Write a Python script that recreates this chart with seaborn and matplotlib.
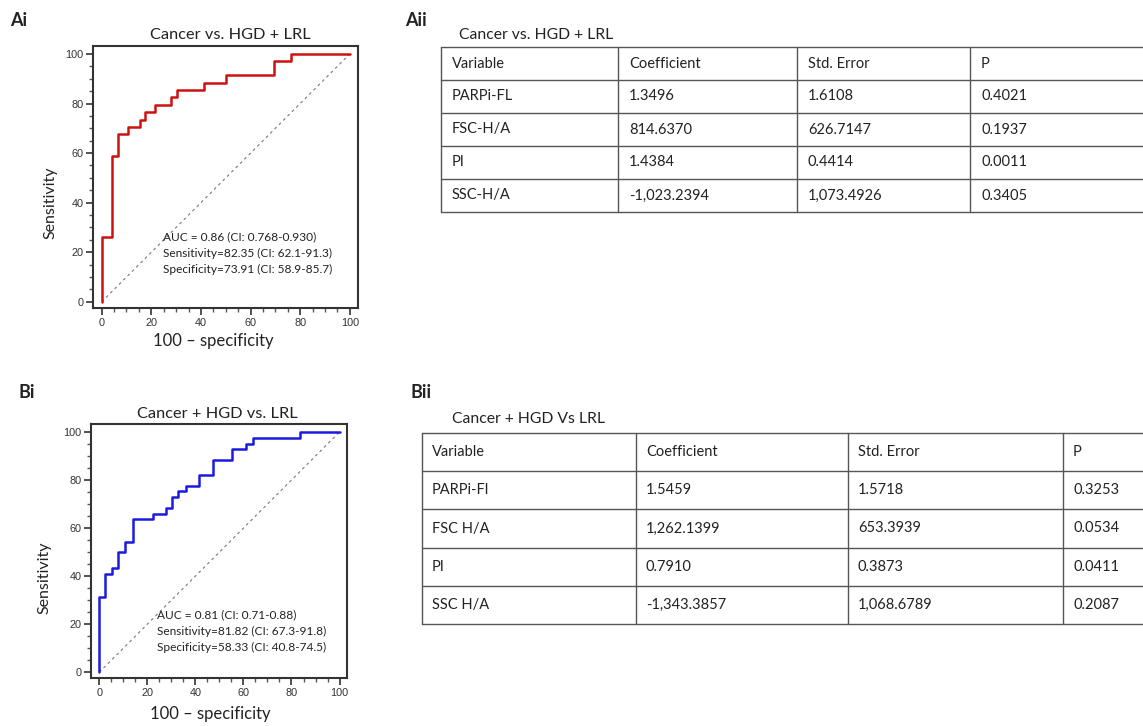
import seaborn as sns
import matplotlib.pyplot as plt
from matplotlib.ticker import MultipleLocator

# ROC operating points (100 - specificity, sensitivity)
fpr_a = [0, 0, 4.3, 6.4, 10.7, 15.4, 17.4, 21.5, 28.1, 30.2, 41.2, 49.9, 69.4, 76.1, 100]
tpr_a = [0, 26.2, 58.8, 67.6, 70.4, 73.4, 76.4, 79.3, 82.5, 85.5, 88.3, 91.3, 97.0, 100, 100]

fpr_b = [0, 0, 2.5, 5.3, 7.9, 10.8, 13.9, 22.2, 27.6, 30.4, 32.7, 36.1, 41.5, 47.2, 55.3, 61.2, 63.8, 83.6, 100]
tpr_b = [0, 31.5, 41.0, 43.2, 50.0, 54.4, 63.6, 65.7, 68.3, 72.8, 75.3, 77.5, 81.9, 88.3, 92.9, 95.1, 97.5, 100, 100]

stats_a = ['AUC = 0.86 (CI: 0.768-0.930)',
           'Sensitivity=82.35 (CI: 62.1-91.3)',
           'Specificity=73.91 (CI: 58.9-85.7)']
stats_b = ['AUC = 0.81 (CI: 0.71-0.88)',
           'Sensitivity=81.82 (CI: 67.3-91.8)',
           'Specificity=58.33 (CI: 40.8-74.5)']

header = ['Variable', 'Coefficient', 'Std. Error', 'P']

vars_a = ['PARPi-FL', 'FSC-H/A', 'PI', 'SSC-H/A']
coef_a = ['1.3496', '814.6370', '1.4384', '-1,023.2394']
se_a = ['1.6108', '626.7147', '0.4414', '1,073.4926']
p_a = ['0.4021', '0.1937', '0.0011', '0.3405']

vars_b = ['PARPi-Fl', 'FSC H/A', 'PI', 'SSC H/A']
coef_b = ['1.5459', '1,262.1399', '0.7910', '-1,343.3857']
se_b = ['1.5718', '653.3939', '0.3873', '1,068.6789']
p_b = ['0.3253', '0.0534', '0.0411', '0.2087']

sns.set_style('ticks')
plt.rcParams['font.family'] = ['Lato', 'DejaVu Sans']

W, H = 1143, 726
fig = plt.figure(figsize=(W / 100, H / 100), dpi=100)


def px_axes(left, top, right, bottom):
    return fig.add_axes([left / W, 1 - bottom / H, (right - left) / W, (bottom - top) / H])


def roc_panel(ax, fpr, tpr, color, xlim, ylim):
    ax.plot([0, 100], [0, 100], ls=(0, (2.5, 3)), color='#8a7070', lw=0.8)
    sns.lineplot(x=fpr, y=tpr, ax=ax, sort=False, estimator=None,
                 drawstyle='steps-post', color=color, lw=1.8)
    ax.set_xlim(*xlim)
    ax.set_ylim(*ylim)
    ax.xaxis.set_major_locator(MultipleLocator(20))
    ax.yaxis.set_major_locator(MultipleLocator(20))
    ax.xaxis.set_minor_locator(MultipleLocator(5))
    ax.yaxis.set_minor_locator(MultipleLocator(5))
    ax.tick_params(which='major', length=5, width=1.2, color='#333333',
                   labelsize=7.8, labelcolor='#333333', pad=2)
    ax.tick_params(which='minor', length=3, width=1, color='#555555')
    for lab in ax.get_xticklabels() + ax.get_yticklabels():
        lab.set_family('Liberation Sans')
    for s in ax.spines.values():
        s.set_visible(True)
        s.set_color('#333333')
        s.set_linewidth(1.5)
    ax.set_xlabel('')
    ax.set_ylabel('')


ax_a = px_axes(93, 46, 358, 308)
roc_panel(ax_a, fpr_a, tpr_a, '#cc1111', (-3.5, 103.3), (-2.5, 103.2))
ax_b = px_axes(91, 424, 347, 678)
roc_panel(ax_b, fpr_b, tpr_b, '#1a1ae0', (-3.45, 103.1), (-2.4, 103.3))

# overlay in pixel coordinates for labels and tables
ov = fig.add_axes([0, 0, 1, 1], zorder=5)
ov.set_xlim(0, W)
ov.set_ylim(H, 0)
ov.axis('off')

txt = '#222222'
ov.text(10, 20, 'Ai', fontsize=13, fontweight='bold', va='center', color=txt)
ov.text(405, 20, 'Aii', fontsize=13, fontweight='bold', va='center', color=txt)
ov.text(18, 393, 'Bi', fontsize=13, fontweight='bold', va='center', color=txt)
ov.text(410, 393, 'Bii', fontsize=13, fontweight='bold', va='center', color=txt)

ov.text(230, 35, 'Cancer vs. HGD + LRL', fontsize=11.8, ha='center', va='center', color=txt)
ov.text(217, 414, 'Cancer + HGD vs. LRL', fontsize=11.8, ha='center', va='center', color=txt)

ov.text(50, 203, 'Sensitivity', fontsize=11.5, rotation=90, ha='center', va='center', color=txt)
ov.text(44, 578, 'Sensitivity', fontsize=11.5, rotation=90, ha='center', va='center', color=txt)
ov.text(213, 341, '100 – specificity', fontsize=12, ha='center', va='center', color=txt)
ov.text(210, 714, '100 – specificity', fontsize=12, ha='center', va='center', color=txt)

for i, s in enumerate(stats_a):
    ov.text(163, 237 + 16 * i, s, fontsize=8.6, va='center', color=txt)
for i, s in enumerate(stats_b):
    ov.text(157, 615 + 16 * i, s, fontsize=8.6, va='center', color=txt)


def draw_table(title, title_xy, left, cols, top, rh, rows, pad):
    ov.text(title_xy[0], title_xy[1], title, fontsize=11.3, va='center', color=txt)
    n = len(rows[0]) + 1
    bottom = top + rh * n
    for k in range(n + 1):
        ov.plot([left, W + 5], [top + rh * k] * 2, color='#555555', lw=1)
    for x in [left] + cols:
        ov.plot([x, x], [top, bottom], color='#555555', lw=1)
    xs = [left] + cols
    for j, col in enumerate(rows):
        ov.text(xs[j] + pad, top + rh / 2, header[j], fontsize=10.5, va='center', color=txt)
        for i, v in enumerate(col):
            ov.text(xs[j] + pad, top + rh * (i + 1.5), v, fontsize=10.5, va='center', color=txt)


draw_table('Cancer vs. HGD + LRL', (459, 35), 441, [618, 797, 970], 47, 33,
           [vars_a, coef_a, se_a, p_a], 11)
draw_table('Cancer + HGD Vs LRL', (452, 419), 422, [636, 848, 1063], 433, 38.2,
           [vars_b, coef_b, se_b, p_b], 10)

fig.savefig('out.png', dpi=100)
